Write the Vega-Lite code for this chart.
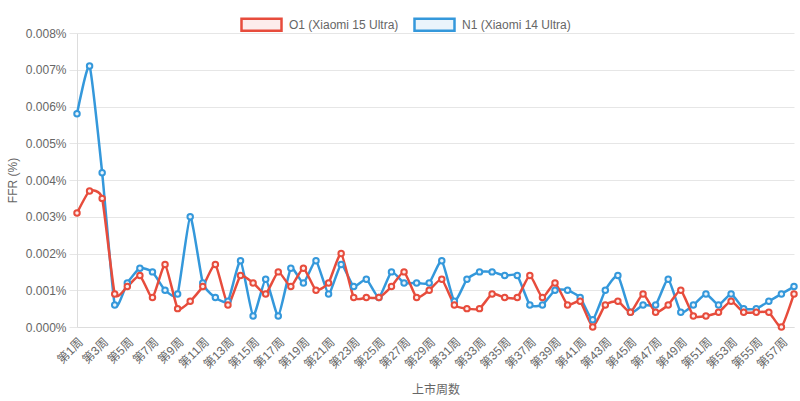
{
  "$schema": "https://vega.github.io/schema/vega-lite/v6.json",
  "width": 717,
  "height": 294,
  "autosize": "none",
  "padding": {"left": 77, "top": 33, "right": 6, "bottom": 74},
  "background": "white",
  "config": {
    "font": "Liberation Sans, Noto Sans CJK SC, sans-serif",
    "view": {"stroke": null},
    "axis": {"labelColor": "#666", "titleColor": "#666", "labelFontSize": 12, "titleFontSize": 12, "titleFontWeight": "normal", "gridColor": "#e6e6e6", "domainColor": "#dddddd", "tickColor": "#e6e6e6"}
  },
  "data": {
    "values": [
      {"week": "第1周", "O1 (Xiaomi 15 Ultra)": 0.0031, "N1 (Xiaomi 14 Ultra)": 0.0058},
      {"week": "第2周", "O1 (Xiaomi 15 Ultra)": 0.0037, "N1 (Xiaomi 14 Ultra)": 0.0071},
      {"week": "第3周", "O1 (Xiaomi 15 Ultra)": 0.0035, "N1 (Xiaomi 14 Ultra)": 0.0042},
      {"week": "第4周", "O1 (Xiaomi 15 Ultra)": 0.0009, "N1 (Xiaomi 14 Ultra)": 0.0006},
      {"week": "第5周", "O1 (Xiaomi 15 Ultra)": 0.0011, "N1 (Xiaomi 14 Ultra)": 0.0012},
      {"week": "第6周", "O1 (Xiaomi 15 Ultra)": 0.0014, "N1 (Xiaomi 14 Ultra)": 0.0016},
      {"week": "第7周", "O1 (Xiaomi 15 Ultra)": 0.0008, "N1 (Xiaomi 14 Ultra)": 0.0015},
      {"week": "第8周", "O1 (Xiaomi 15 Ultra)": 0.0017, "N1 (Xiaomi 14 Ultra)": 0.0010},
      {"week": "第9周", "O1 (Xiaomi 15 Ultra)": 0.0005, "N1 (Xiaomi 14 Ultra)": 0.0009},
      {"week": "第10周", "O1 (Xiaomi 15 Ultra)": 0.0007, "N1 (Xiaomi 14 Ultra)": 0.0030},
      {"week": "第11周", "O1 (Xiaomi 15 Ultra)": 0.0011, "N1 (Xiaomi 14 Ultra)": 0.0012},
      {"week": "第12周", "O1 (Xiaomi 15 Ultra)": 0.0017, "N1 (Xiaomi 14 Ultra)": 0.0008},
      {"week": "第13周", "O1 (Xiaomi 15 Ultra)": 0.0006, "N1 (Xiaomi 14 Ultra)": 0.0007},
      {"week": "第14周", "O1 (Xiaomi 15 Ultra)": 0.0014, "N1 (Xiaomi 14 Ultra)": 0.0018},
      {"week": "第15周", "O1 (Xiaomi 15 Ultra)": 0.0012, "N1 (Xiaomi 14 Ultra)": 0.0003},
      {"week": "第16周", "O1 (Xiaomi 15 Ultra)": 0.0009, "N1 (Xiaomi 14 Ultra)": 0.0013},
      {"week": "第17周", "O1 (Xiaomi 15 Ultra)": 0.0015, "N1 (Xiaomi 14 Ultra)": 0.0003},
      {"week": "第18周", "O1 (Xiaomi 15 Ultra)": 0.0011, "N1 (Xiaomi 14 Ultra)": 0.0016},
      {"week": "第19周", "O1 (Xiaomi 15 Ultra)": 0.0016, "N1 (Xiaomi 14 Ultra)": 0.0012},
      {"week": "第20周", "O1 (Xiaomi 15 Ultra)": 0.0010, "N1 (Xiaomi 14 Ultra)": 0.0018},
      {"week": "第21周", "O1 (Xiaomi 15 Ultra)": 0.0012, "N1 (Xiaomi 14 Ultra)": 0.0009},
      {"week": "第22周", "O1 (Xiaomi 15 Ultra)": 0.0020, "N1 (Xiaomi 14 Ultra)": 0.0017},
      {"week": "第23周", "O1 (Xiaomi 15 Ultra)": 0.0008, "N1 (Xiaomi 14 Ultra)": 0.0011},
      {"week": "第24周", "O1 (Xiaomi 15 Ultra)": 0.0008, "N1 (Xiaomi 14 Ultra)": 0.0013},
      {"week": "第25周", "O1 (Xiaomi 15 Ultra)": 0.0008, "N1 (Xiaomi 14 Ultra)": 0.0008},
      {"week": "第26周", "O1 (Xiaomi 15 Ultra)": 0.0011, "N1 (Xiaomi 14 Ultra)": 0.0015},
      {"week": "第27周", "O1 (Xiaomi 15 Ultra)": 0.0015, "N1 (Xiaomi 14 Ultra)": 0.0012},
      {"week": "第28周", "O1 (Xiaomi 15 Ultra)": 0.0008, "N1 (Xiaomi 14 Ultra)": 0.0012},
      {"week": "第29周", "O1 (Xiaomi 15 Ultra)": 0.0010, "N1 (Xiaomi 14 Ultra)": 0.0012},
      {"week": "第30周", "O1 (Xiaomi 15 Ultra)": 0.0013, "N1 (Xiaomi 14 Ultra)": 0.0018},
      {"week": "第31周", "O1 (Xiaomi 15 Ultra)": 0.0006, "N1 (Xiaomi 14 Ultra)": 0.0007},
      {"week": "第32周", "O1 (Xiaomi 15 Ultra)": 0.0005, "N1 (Xiaomi 14 Ultra)": 0.0013},
      {"week": "第33周", "O1 (Xiaomi 15 Ultra)": 0.0005, "N1 (Xiaomi 14 Ultra)": 0.0015},
      {"week": "第34周", "O1 (Xiaomi 15 Ultra)": 0.0009, "N1 (Xiaomi 14 Ultra)": 0.0015},
      {"week": "第35周", "O1 (Xiaomi 15 Ultra)": 0.0008, "N1 (Xiaomi 14 Ultra)": 0.0014},
      {"week": "第36周", "O1 (Xiaomi 15 Ultra)": 0.0008, "N1 (Xiaomi 14 Ultra)": 0.0014},
      {"week": "第37周", "O1 (Xiaomi 15 Ultra)": 0.0014, "N1 (Xiaomi 14 Ultra)": 0.0006},
      {"week": "第38周", "O1 (Xiaomi 15 Ultra)": 0.0008, "N1 (Xiaomi 14 Ultra)": 0.0006},
      {"week": "第39周", "O1 (Xiaomi 15 Ultra)": 0.0012, "N1 (Xiaomi 14 Ultra)": 0.0010},
      {"week": "第40周", "O1 (Xiaomi 15 Ultra)": 0.0006, "N1 (Xiaomi 14 Ultra)": 0.0010},
      {"week": "第41周", "O1 (Xiaomi 15 Ultra)": 0.0007, "N1 (Xiaomi 14 Ultra)": 0.0008},
      {"week": "第42周", "O1 (Xiaomi 15 Ultra)": 0.0000, "N1 (Xiaomi 14 Ultra)": 0.0002},
      {"week": "第43周", "O1 (Xiaomi 15 Ultra)": 0.0006, "N1 (Xiaomi 14 Ultra)": 0.0010},
      {"week": "第44周", "O1 (Xiaomi 15 Ultra)": 0.0007, "N1 (Xiaomi 14 Ultra)": 0.0014},
      {"week": "第45周", "O1 (Xiaomi 15 Ultra)": 0.0004, "N1 (Xiaomi 14 Ultra)": 0.0004},
      {"week": "第46周", "O1 (Xiaomi 15 Ultra)": 0.0009, "N1 (Xiaomi 14 Ultra)": 0.0006},
      {"week": "第47周", "O1 (Xiaomi 15 Ultra)": 0.0004, "N1 (Xiaomi 14 Ultra)": 0.0006},
      {"week": "第48周", "O1 (Xiaomi 15 Ultra)": 0.0006, "N1 (Xiaomi 14 Ultra)": 0.0013},
      {"week": "第49周", "O1 (Xiaomi 15 Ultra)": 0.0010, "N1 (Xiaomi 14 Ultra)": 0.0004},
      {"week": "第50周", "O1 (Xiaomi 15 Ultra)": 0.0003, "N1 (Xiaomi 14 Ultra)": 0.0006},
      {"week": "第51周", "O1 (Xiaomi 15 Ultra)": 0.0003, "N1 (Xiaomi 14 Ultra)": 0.0009},
      {"week": "第52周", "O1 (Xiaomi 15 Ultra)": 0.0004, "N1 (Xiaomi 14 Ultra)": 0.0006},
      {"week": "第53周", "O1 (Xiaomi 15 Ultra)": 0.0007, "N1 (Xiaomi 14 Ultra)": 0.0009},
      {"week": "第54周", "O1 (Xiaomi 15 Ultra)": 0.0004, "N1 (Xiaomi 14 Ultra)": 0.0005},
      {"week": "第55周", "O1 (Xiaomi 15 Ultra)": 0.0004, "N1 (Xiaomi 14 Ultra)": 0.0005},
      {"week": "第56周", "O1 (Xiaomi 15 Ultra)": 0.0004, "N1 (Xiaomi 14 Ultra)": 0.0007},
      {"week": "第57周", "O1 (Xiaomi 15 Ultra)": 0.0000, "N1 (Xiaomi 14 Ultra)": 0.0009},
      {"week": "第58周", "O1 (Xiaomi 15 Ultra)": 0.0009, "N1 (Xiaomi 14 Ultra)": 0.0011}
    ]
  },
  "transform": [
    {"fold": ["N1 (Xiaomi 14 Ultra)", "O1 (Xiaomi 15 Ultra)"], "as": ["series", "ffr"]}
  ],
  "encoding": {
    "x": {
      "field": "week", "type": "ordinal", "sort": null,
      "scale": {"type": "point", "padding": 0},
      "axis": {
        "title": "上市周数", "titlePadding": 14,
        "values": ["第1周","第3周","第5周","第7周","第9周","第11周","第13周","第15周","第17周","第19周","第21周","第23周","第25周","第27周","第29周","第31周","第33周","第35周","第37周","第39周","第41周","第43周","第45周","第47周","第49周","第51周","第53周","第55周","第57周"],
        "labelAngle": -45, "labelAlign": "right", "labelBaseline": "top", "labelPadding": 9,
        "ticks": false, "grid": false, "labelOverlap": false
      }
    },
    "y": {
      "field": "ffr", "type": "quantitative",
      "scale": {"domain": [0, 0.008], "nice": false, "zero": true},
      "axis": {
        "title": "FFR (%)", "titleX": -65, "titleY": 147, "titleAngle": -90, "titleAlign": "center", "titleBaseline": "middle",
        "values": [0, 0.001, 0.002, 0.003, 0.004, 0.005, 0.006, 0.007, 0.008],
        "labelExpr": "format(datum.value, '.3f') + '%'",
        "tickSize": 8, "labelPadding": 3, "grid": true
      }
    },
    "stroke": {
      "field": "series", "type": "nominal",
      "scale": {"domain": ["O1 (Xiaomi 15 Ultra)", "N1 (Xiaomi 14 Ultra)"], "range": ["#e74c3c", "#3498db"]},
      "legend": {
        "title": null, "orient": "none", "legendX": 163, "legendY": -30, "direction": "horizontal",
        "symbolType": "M-1,-0.3H1V0.3H-1Z", "symbolSize": 1600, "symbolStrokeWidth": 2.5,
        "labelFontSize": 12, "labelColor": "#666", "labelOffset": 6, "columnPadding": 10, "labelLimit": 300,
        "encode": {"symbols": {"update": {"fill": {"signal": "datum.value === 'O1 (Xiaomi 15 Ultra)' ? '#fdedec' : '#eaf4fb'"}, "fillOpacity": {"value": 1}}}}
      }
    }
  },
  "layer": [
    {"mark": {"type": "line", "strokeWidth": 2.5, "interpolate": "cardinal", "tension": 0.5}},
    {
      "mark": {"type": "point", "shape": "circle", "size": 30, "strokeWidth": 2, "filled": false, "opacity": 1},
      "encoding": {
        "fill": {"field": "series", "type": "nominal", "scale": {"domain": ["O1 (Xiaomi 15 Ultra)", "N1 (Xiaomi 14 Ultra)"], "range": ["#fdedec", "#eaf4fb"]}, "legend": null}
      }
    }
  ]
}
